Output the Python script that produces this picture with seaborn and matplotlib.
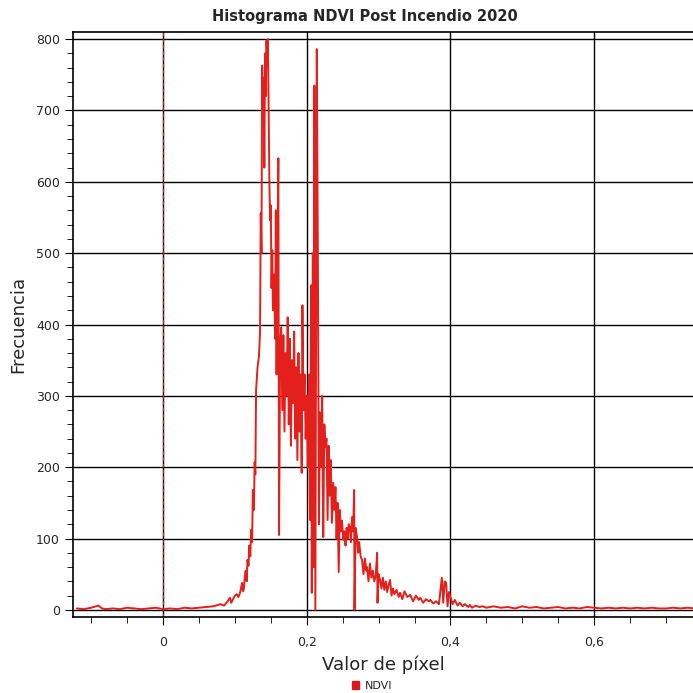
"""
Histograma NDVI post incendio 2020 (recreacion)
"""

import matplotlib.pyplot as plt
import matplotlib.ticker as mticker
from matplotlib.patches import Patch
import seaborn as sns
import pandas as pd

sns.set_style("white")
plt.rcParams['font.family'] = ['DejaVu Sans']

left_x = [-0.12, -0.11, -0.10, -0.09, -0.085, -0.08, -0.07, -0.06, -0.05, -0.04,
          -0.03, -0.02, -0.01, 0.0, 0.01, 0.02, 0.03, 0.04, 0.05, 0.06,
          0.07, 0.08, 0.085, 0.09, 0.093, 0.095]
left_y = [2, 1, 3, 6, 2, 1, 2, 1, 3, 2,
          1, 2, 3, 1, 2, 1, 3, 2, 3, 4,
          5, 8, 6, 12, 17, 10]

peak_x = [0.0975, 0.1, 0.1025, 0.105, 0.1075, 0.11, 0.1115, 0.1125, 0.114, 0.115,
          0.1165, 0.1175, 0.119, 0.12, 0.1215, 0.1225, 0.124, 0.125, 0.1265, 0.1275,
          0.1285, 0.1295, 0.1315, 0.1335, 0.135, 0.136, 0.137, 0.138,
          0.139, 0.14, 0.141, 0.142, 0.143, 0.144, 0.145, 0.146, 0.147, 0.148,
          0.149, 0.15, 0.151, 0.152, 0.153, 0.1545, 0.156, 0.157, 0.158, 0.159,
          0.1605, 0.1615, 0.163, 0.1645, 0.166, 0.1675, 0.169, 0.1705, 0.172, 0.1735,
          0.175, 0.1765, 0.178, 0.1795, 0.181, 0.1825, 0.184, 0.1855, 0.187, 0.1885,
          0.19, 0.1915, 0.193, 0.194, 0.1955, 0.197, 0.1985]
peak_y = [15, 20, 22, 18, 25, 38, 26, 30, 48, 55,
          40, 70, 62, 90, 75, 112, 95, 168, 140, 207,
          190, 308, 340, 355, 388, 556, 500, 763,
          700, 746, 620, 780, 720, 798, 770, 800, 704, 600,
          546, 567, 451, 504, 420, 470, 380, 560, 330, 480,
          633, 105, 370, 396, 280, 385, 250, 360, 300, 410,
          260, 380, 230, 350, 290, 390, 240, 340, 210, 360,
          250, 330, 192, 427, 280, 330, 240]

mid_x = [0.2, 0.2015, 0.203, 0.2045, 0.206, 0.207, 0.2085, 0.2095, 0.2106, 0.212,
         0.214, 0.2155, 0.217, 0.2185, 0.22, 0.2215, 0.223, 0.2245, 0.226, 0.2275,
         0.229, 0.2305, 0.232, 0.2335, 0.235, 0.237, 0.2385, 0.24, 0.2415, 0.243,
         0.2445, 0.246, 0.2475, 0.249, 0.251, 0.2525, 0.254, 0.2555, 0.257, 0.2585,
         0.26, 0.2615, 0.263, 0.2645, 0.266, 0.2665, 0.268, 0.27, 0.2715, 0.273,
         0.275, 0.277, 0.279, 0.281, 0.283, 0.284, 0.286, 0.288, 0.29, 0.292,
         0.294, 0.296, 0.298, 0.2985, 0.3]
mid_y = [300, 200, 330, 126, 455, 24, 500, 60, 735, 0,
         786, 494, 120, 277, 200, 300, 102, 260, 228, 240,
         126, 230, 160, 210, 122, 178, 140, 172, 100, 150,
         53, 140, 110, 125, 98, 110, 90, 115, 100, 120,
         116, 95, 130, 110, 168, 0, 115, 102, 80, 95,
         75, 70, 50, 72, 55, 60, 40, 65, 45, 55,
         40, 48, 80, 10, 50]

tail_x = [0.302, 0.304, 0.306, 0.308, 0.31, 0.312, 0.314, 0.316, 0.318, 0.32,
          0.322, 0.325, 0.328, 0.33, 0.333, 0.336, 0.34, 0.344, 0.348, 0.352,
          0.356, 0.358, 0.362, 0.366, 0.37, 0.372, 0.376, 0.38, 0.384, 0.388,
          0.39, 0.392, 0.394, 0.396, 0.398, 0.4, 0.403, 0.406, 0.41, 0.413,
          0.417, 0.42, 0.425, 0.427, 0.43, 0.435, 0.44, 0.445, 0.45, 0.46,
          0.47, 0.48, 0.49, 0.5, 0.51, 0.52, 0.53, 0.54, 0.55, 0.56,
          0.57, 0.58, 0.59, 0.6, 0.61, 0.62, 0.63, 0.64, 0.65, 0.66,
          0.67, 0.68, 0.69, 0.70, 0.71, 0.72, 0.73, 0.74]
tail_y = [42, 30, 45, 28, 40, 25, 35, 42, 20, 30,
          22, 28, 18, 24, 15, 26, 18, 21, 12, 20,
          14, 17, 10, 15, 12, 14, 9, 12, 8, 45,
          10, 40, 38, 5, 25, 18, 8, 14, 6, 10,
          5, 8, 4, 7, 3, 6, 4, 5, 3, 5,
          3, 4, 2, 5, 3, 4, 2, 3, 4, 2,
          3, 2, 4, 3, 2, 3, 2, 3, 2, 3,
          2, 3, 2, 2, 3, 2, 3, 2]

df = pd.DataFrame({
    'valor': left_x + peak_x + mid_x + tail_x,
    'frecuencia': left_y + peak_y + mid_y + tail_y,
})

fig = plt.figure(figsize=(6.93, 6.93), dpi=100)
ax = fig.add_axes([73 / 693, 76 / 693, 620 / 693, 585 / 693])

line_color = '#e3201b'
sns.lineplot(data=df, x='valor', y='frecuencia', color=line_color, linewidth=1.4,
             sort=False, estimator=None, ax=ax)

# linea vertical en cero
ax.axvline(0, color='#b0302a', linewidth=0.9, linestyle=(0, (3, 2)), zorder=1)

ax.set_xlim(-0.1253, 0.7376)
ax.set_ylim(-10, 810)

ax.xaxis.set_major_locator(mticker.MultipleLocator(0.2))
ax.xaxis.set_minor_locator(mticker.MultipleLocator(0.05))
ax.yaxis.set_major_locator(mticker.MultipleLocator(100))
ax.yaxis.set_minor_locator(mticker.MultipleLocator(20))
ax.xaxis.set_major_formatter(mticker.FuncFormatter(
    lambda v, p: '0' if abs(v) < 1e-9 else f'{v:.1f}'.replace('.', ',')))

ax.grid(True, which='major', color='black', linewidth=1.0)
ax.set_axisbelow(True)
ax.tick_params(which='both', direction='out', color='black', labelsize=9,
               bottom=True, left=True)
ax.tick_params(which='major', length=6)
ax.tick_params(which='minor', length=4)
ax.tick_params(axis='x', pad=8)

for side in ['left', 'bottom', 'top']:
    ax.spines[side].set_color('black')
    ax.spines[side].set_linewidth(1.2)
ax.spines['right'].set_visible(False)

ax.set_xlabel('Valor de píxel', fontsize=13, labelpad=4)
ax.set_ylabel('Frecuencia', fontsize=13, labelpad=6)

fig.text(365 / 693, 1 - 17 / 693, 'Histograma NDVI Post Incendio 2020',
         ha='center', va='center', fontsize=10.5, weight='bold')

fig.legend(handles=[Patch(facecolor='#d7191c', edgecolor='#d7191c', label='NDVI')],
           loc='center', bbox_to_anchor=(372 / 693, 1 - 686 / 693), frameon=False,
           fontsize=8, handlelength=0.7, handleheight=0.7, handletextpad=0.5)

plt.savefig('out.png', dpi=100)
plt.close()
